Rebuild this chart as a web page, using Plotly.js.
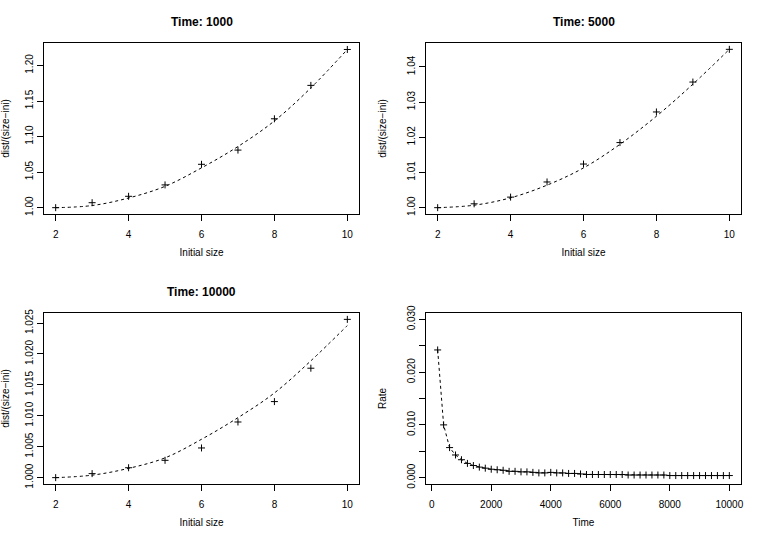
<!DOCTYPE html>
<html>
<head>
<meta charset="utf-8">
<script src="https://cdn.plot.ly/plotly-3.0.1.min.js"></script>
<style>
  html, body { margin: 0; padding: 0; background: #fff; }
  #chart { width: 763px; height: 540px; }
</style>
</head>
<body>
<div id="chart"></div>
<script>
// initial sizes used in the three upper panels
const sizes = [2, 3, 4, 5, 6, 7, 8, 9, 10];

// Time: 1000
const obs1000 = [1.000, 1.007, 1.016, 1.032, 1.061, 1.081, 1.125, 1.172, 1.2225];
const fit1000 = [1.000, 1.003, 1.0136, 1.030, 1.056, 1.086, 1.122, 1.1685, 1.2225];

// Time: 5000
const obs5000 = [1.000, 1.0011, 1.0030, 1.0073, 1.0124, 1.0185, 1.0272, 1.0357, 1.0450];
const fit5000 = [1.000, 1.0007, 1.0028, 1.0064, 1.0113, 1.0180, 1.0260, 1.0351, 1.0450];

// Time: 10000
const obs10000 = [1.0000, 1.00065, 1.0016, 1.0028, 1.0048, 1.0090, 1.0123, 1.0177, 1.0256];
const fit10000 = [1.0000, 1.0004, 1.0015, 1.0032, 1.0062, 1.0097, 1.0137, 1.0189, 1.0246];

// rate against time
const times = [];
for (let t = 200; t <= 10000; t += 200) times.push(t);
const rates = [
  0.0242, 0.0100, 0.0057, 0.0043, 0.0034, 0.0027, 0.0023, 0.0020, 0.0018, 0.0016,
  0.0015, 0.0014, 0.0012, 0.0012, 0.0011, 0.0011, 0.0010, 0.0009, 0.0009, 0.0010,
  0.0009, 0.0009, 0.0008, 0.0008, 0.0007, 0.0006, 0.0006, 0.0006, 0.0006, 0.0006,
  0.0006, 0.0006, 0.0005, 0.0005, 0.0005, 0.0005, 0.0005, 0.0005, 0.0005, 0.0004,
  0.0004, 0.0004, 0.0004, 0.0004, 0.0004, 0.0004, 0.0004, 0.0004, 0.0004, 0.0004
];
const rateTicks = [0, 0.005, 0.010, 0.015, 0.020, 0.025, 0.030];
const rateTickText = ['0.000', '', '0.010', '', '0.020', '', '0.030'];
const timeTicks = [0, 2000, 4000, 6000, 8000, 10000];

const titles = ['Time: 1000', 'Time: 5000', 'Time: 10000'];

const font = 'Liberation Sans, Arial, Helvetica, sans-serif';
const marker = {symbol: 'cross-thin', size: 5, line: {color: '#000', width: 1}, color: '#000'};
const dashed = {color: '#000', width: 1, dash: '3px,3px'};

function pointsTrace(x, y, n) {
  return {x, y, xaxis: 'x' + n, yaxis: 'y' + n, type: 'scatter', mode: 'markers',
          marker, hoverinfo: 'x+y'};
}
function curveTrace(x, y, n, shape) {
  return {x, y, xaxis: 'x' + n, yaxis: 'y' + n, type: 'scatter', mode: 'lines',
          line: Object.assign({shape}, dashed), hoverinfo: 'skip'};
}

const data = [
  curveTrace(sizes, fit1000, '', 'spline'), pointsTrace(sizes, obs1000, ''),
  curveTrace(sizes, fit5000, 2, 'spline'), pointsTrace(sizes, obs5000, 2),
  curveTrace(sizes, fit10000, 3, 'spline'), pointsTrace(sizes, obs10000, 3),
  curveTrace(times, rates, 4, 'linear'), pointsTrace(times, rates, 4)
];

// R style axes: box, outside ticks, no grid
function xAxis(domain, anchor, range, title, extra) {
  return Object.assign({
    domain, anchor, range, showgrid: false, zeroline: false,
    showline: true, mirror: true, linecolor: '#000', linewidth: 1,
    ticks: 'outside', ticklen: 6, tickcolor: '#000', ticklabelstandoff: 5,
    tickfont: {family: font, size: 10, color: '#000'},
    title: {text: title, font: {family: font, size: 10, color: '#000'}, standoff: 9}
  }, extra);
}
function yAxis(domain, anchor, range, title, extra) {
  return Object.assign({
    domain, anchor, range, showgrid: false, zeroline: false,
    showline: true, mirror: true, linecolor: '#000', linewidth: 1,
    ticks: 'outside', ticklen: 6, tickcolor: '#000', tickangle: -90, ticklabelstandoff: 0,
    tickfont: {family: font, size: 10, color: '#000'},
    title: {text: title, font: {family: font, size: 10, color: '#000'}, standoff: 17}
  }, extra);
}

const colL = [44 / 763, 359 / 763];
const colR = [426 / 763, 741 / 763];
const rowT = [1 - 214 / 540, 1 - 43 / 540];
const rowB = [1 - 484 / 540, 1 - 313 / 540];
const sizeRange = [1.68, 10.32];
const yLabel = 'dist/(size\u2212ini)';

const layout = {
  width: 763, height: 540,
  margin: {l: 0, r: 0, t: 0, b: 0},
  paper_bgcolor: '#fff', plot_bgcolor: '#fff',
  showlegend: false,
  font: {family: font, color: '#000'},
  xaxis: xAxis(colL, 'y', sizeRange, 'Initial size', {tickvals: [2, 4, 6, 8, 10]}),
  yaxis: yAxis(rowT, 'x', [0.9911, 1.2316], yLabel, {tickvals: [1.00, 1.05, 1.10, 1.15, 1.20], tickformat: '.2f'}),
  xaxis2: xAxis(colR, 'y2', sizeRange, 'Initial size', {tickvals: [2, 4, 6, 8, 10]}),
  yaxis2: yAxis(rowT, 'x2', [0.9982, 1.0468], yLabel, {tickvals: [1.00, 1.01, 1.02, 1.03, 1.04], tickformat: '.2f'}),
  xaxis3: xAxis(colL, 'y3', sizeRange, 'Initial size', {tickvals: [2, 4, 6, 8, 10]}),
  yaxis3: yAxis(rowB, 'x3', [0.99897, 1.02663], yLabel, {tickvals: [1.000, 1.005, 1.010, 1.015, 1.020, 1.025], tickformat: '.3f'}),
  xaxis4: xAxis(colR, 'y4', [-192, 10392], 'Time', {tickvals: timeTicks, ticktext: timeTicks.map(String)}),
  yaxis4: yAxis(rowB, 'x4', [-0.0012, 0.0312], 'Rate', {tickvals: rateTicks, ticktext: rateTickText}),
  annotations: titles.map((t, i) => ({
    text: '<b>' + t + '</b>', showarrow: false,
    xref: 'paper', yref: 'paper',
    x: i === 1 ? (colR[0] + colR[1]) / 2 : (colL[0] + colL[1]) / 2,
    y: i === 2 ? 1 - 292 / 540 : 1 - 22 / 540,
    xanchor: 'center', yanchor: 'middle',
    font: {family: font, size: 12, color: '#000'}
  }))
};

Plotly.newPlot('chart', data, layout, {displayModeBar: false, staticPlot: true});
</script>
</body>
</html>
